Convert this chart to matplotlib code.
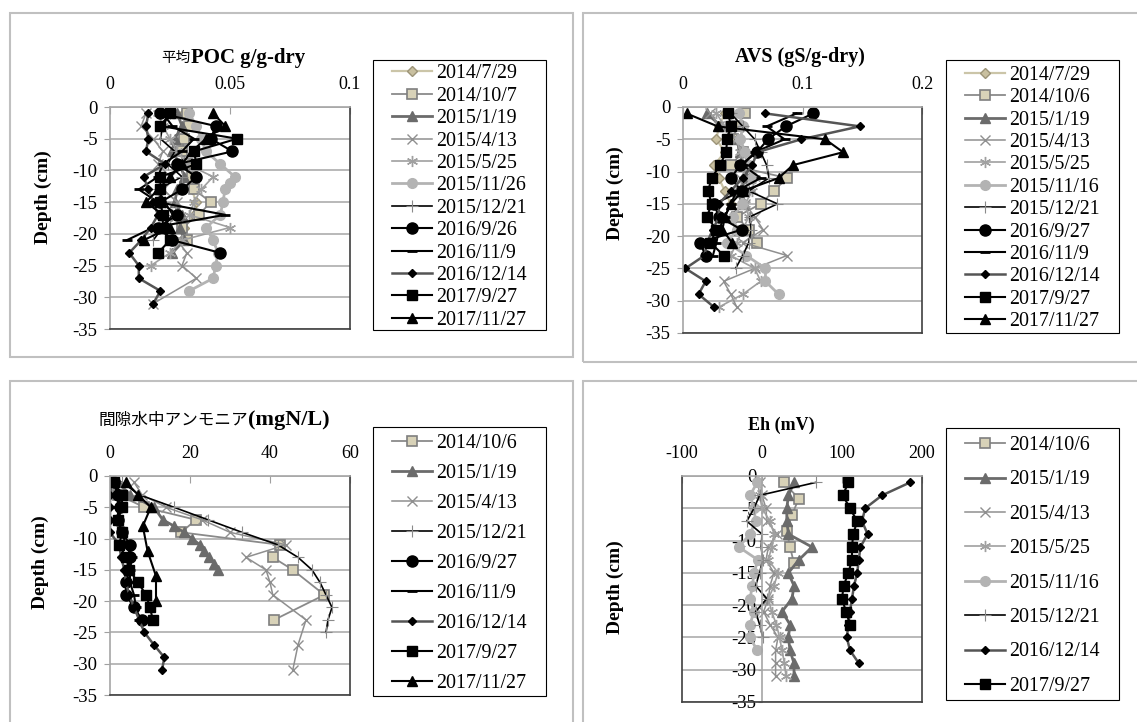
import matplotlib.pyplot as plt
from matplotlib.patches import Rectangle

# fuentes: serif para numeros, CJK para el japones
plt.rcParams['font.family'] = ['Liberation Serif', 'Noto Sans CJK JP']
plt.rcParams['axes.unicode_minus'] = False

W, H = 1137, 722

# ---------------- datos: 平均POC (g/g-dry) ----------------
poc_labels = ["2014/7/29", "2014/10/7", "2015/1/19", "2015/4/13", "2015/5/25", "2015/11/26",
              "2015/12/21", "2016/9/26", "2016/11/9", "2016/12/14", "2017/9/27", "2017/11/27"]
poc_depth_20140729 = [-1, -3, -5, -7, -9, -11, -13, -15, -17, -19, -21]
poc_20140729 = [0.031, 0.032, 0.030, 0.029, 0.031, 0.033, 0.034, 0.036, 0.035, 0.031, 0.030]
poc_depth_20141007 = [-1, -3, -5, -7, -9, -11, -13, -15, -17, -19, -21]
poc_20141007 = [0.032, 0.033, 0.031, 0.030, 0.032, 0.034, 0.035, 0.042, 0.037, 0.030, 0.032]
poc_depth_20150119 = [-1, -3, -5, -7, -9, -11, -13, -15, -17, -19, -21, -23]
poc_20150119 = [0.028, 0.030, 0.027, 0.026, 0.029, 0.031, 0.028, 0.027, 0.030, 0.029, 0.031, 0.026]
poc_depth_20150413 = [-1, -3, -5, -7, -9, -11, -13, -15, -17, -19, -21, -23, -25, -27, -31]
poc_20150413 = [0.015, 0.013, 0.018, 0.022, 0.020, 0.025, 0.022, 0.028, 0.027, 0.024, 0.028, 0.032, 0.030, 0.036, 0.018]
poc_depth_20150525 = [-1, -3, -5, -7, -9, -11, -13, -15, -17, -19, -21, -23, -25]
poc_20150525 = [0.020, 0.022, 0.025, 0.028, 0.032, 0.043, 0.038, 0.035, 0.033, 0.050, 0.030, 0.025, 0.017]
poc_depth_20151126 = [-1, -3, -5, -7, -9, -11, -12, -13, -15, -17, -19, -21, -23, -25, -27, -29]
poc_20151126 = [0.033, 0.036, 0.038, 0.040, 0.046, 0.052, 0.050, 0.048, 0.047, 0.046, 0.040, 0.043, 0.045, 0.044, 0.043, 0.033]
poc_depth_20151221 = [-1, -3, -5, -7, -9, -11, -13, -15, -17, -19, -21]
poc_20151221 = [0.025, 0.022, 0.021, 0.027, 0.024, 0.030, 0.020, 0.023, 0.026, 0.022, 0.018]
poc_depth_20160926 = [-1, -3, -5, -7, -9, -11, -13, -15, -17, -19, -21, -23]
poc_20160926 = [0.021, 0.044, 0.042, 0.051, 0.028, 0.036, 0.030, 0.021, 0.028, 0.020, 0.026, 0.046]
poc_depth_20161109 = [-1, -3, -5, -7, -9, -11, -13, -15, -17, -19, -21]
poc_20161109 = [0.022, 0.026, 0.035, 0.030, 0.022, 0.020, 0.012, 0.020, 0.048, 0.018, 0.007]
poc_depth_20161214 = [-1, -3, -5, -7, -9, -11, -13, -15, -17, -19, -21, -23, -25, -27, -29, -31]
poc_20161214 = [0.016, 0.015, 0.016, 0.015, 0.023, 0.014, 0.016, 0.018, 0.020, 0.017, 0.013, 0.008, 0.012, 0.012, 0.021, 0.018]
poc_depth_20170927 = [-1, -3, -5, -7, -9, -11, -13, -15, -17, -19, -21, -23]
poc_20170927 = [0.025, 0.021, 0.053, 0.035, 0.036, 0.021, 0.021, 0.021, 0.022, 0.022, 0.025, 0.020]
poc_depth_20171127 = [-1, -3, -5, -7, -9, -11, -13, -15, -17, -19, -21]
poc_20171127 = [0.043, 0.048, 0.040, 0.034, 0.030, 0.025, 0.020, 0.015, 0.022, 0.025, 0.014]

# ---------------- datos: AVS (gS/g-dry) ----------------
avs_labels = ["2014/7/29", "2014/10/6", "2015/1/19", "2015/4/13", "2015/5/25", "2015/11/16",
              "2015/12/21", "2016/9/27", "2016/11/9", "2016/12/14", "2017/9/27", "2017/11/27"]
avs_depth_20140729 = [-1, -3, -5, -7, -9, -11, -13, -15]
avs_20140729 = [0.035, 0.030, 0.028, 0.035, 0.026, 0.030, 0.035, 0.040]
avs_depth_20141006 = [-1, -3, -5, -7, -9, -11, -13, -15, -17, -19, -21]
avs_20141006 = [0.052, 0.045, 0.042, 0.050, 0.040, 0.087, 0.076, 0.065, 0.045, 0.055, 0.062]
avs_depth_20150119 = [-1, -3, -5, -7, -9, -11, -13, -15, -17, -19]
avs_20150119 = [0.020, 0.032, 0.045, 0.048, 0.050, 0.055, 0.045, 0.050, 0.040, 0.045]
avs_depth_20150413 = [-1, -3, -5, -7, -9, -11, -13, -15, -17, -19, -21, -23, -25, -27, -29, -31]
avs_20150413 = [0.023, 0.030, 0.045, 0.050, 0.055, 0.048, 0.050, 0.052, 0.060, 0.067, 0.050, 0.087, 0.060, 0.034, 0.040, 0.045]
avs_depth_20150525 = [-1, -3, -5, -7, -9, -11, -13, -15, -17, -19, -21, -23, -25, -27, -29, -31]
avs_20150525 = [0.028, 0.035, 0.045, 0.048, 0.052, 0.060, 0.058, 0.052, 0.055, 0.050, 0.045, 0.040, 0.060, 0.065, 0.050, 0.030]
avs_depth_20151116 = [-1, -3, -5, -7, -9, -11, -13, -15, -17, -19, -21, -23, -25, -27, -29]
avs_20151116 = [0.047, 0.050, 0.048, 0.052, 0.055, 0.058, 0.050, 0.049, 0.042, 0.045, 0.037, 0.053, 0.069, 0.069, 0.080]
avs_depth_20151221 = [-1, -3, -5, -7, -9, -11, -13, -15, -17, -19, -21, -23, -25]
avs_20151221 = [0.040, 0.050, 0.060, 0.065, 0.070, 0.072, 0.055, 0.079, 0.056, 0.057, 0.055, 0.050, 0.044]
avs_depth_20160927 = [-1, -3, -5, -7, -9, -11, -13, -15, -17, -19, -21, -23]
avs_20160927 = [0.109, 0.086, 0.071, 0.062, 0.048, 0.040, 0.049, 0.026, 0.030, 0.049, 0.014, 0.019]
avs_depth_20161109 = [-1, -3, -5, -7, -9, -11, -13, -15, -17, -19, -21, -23]
avs_20161109 = [0.095, 0.070, 0.085, 0.060, 0.050, 0.065, 0.045, 0.040, 0.035, 0.030, 0.028, 0.025]
avs_depth_20161214 = [-1, -3, -5, -7, -9, -11, -13, -15, -17, -19, -21, -23, -25, -27, -29, -31]
avs_20161214 = [0.069, 0.148, 0.099, 0.062, 0.058, 0.050, 0.040, 0.030, 0.030, 0.025, 0.020, 0.018, 0.002, 0.019, 0.013, 0.026]
avs_depth_20170927 = [-1, -3, -5, -7, -9, -11, -13, -15, -17, -19, -21, -23]
avs_20170927 = [0.038, 0.040, 0.037, 0.036, 0.031, 0.024, 0.021, 0.024, 0.020, 0.028, 0.023, 0.034]
avs_depth_20171127 = [-1, -3, -5, -7, -9, -11, -13, -15, -17, -19, -21]
avs_20171127 = [0.003, 0.029, 0.119, 0.134, 0.092, 0.080, 0.050, 0.040, 0.035, 0.033, 0.041]

# ---------------- datos: 間隙水中アンモニア (mgN/L) ----------------
nh_labels = ["2014/10/6", "2015/1/19", "2015/4/13", "2015/12/21", "2016/9/27",
             "2016/11/9", "2016/12/14", "2017/9/27", "2017/11/27"]
nh_depth_20141006 = [-1, -3, -5, -7, -9, -11, -13, -15, -19, -23]
nh_20141006 = [0.3, 2.0, 8.6, 21.5, 17.8, 42.5, 40.7, 45.7, 53.6, 41.0]
nh_depth_20150119 = [-1, -3, -5, -7, -8, -9, -10, -11, -12, -13, -14, -15]
nh_20150119 = [2.0, 5.0, 11.0, 13.2, 16.0, 18.5, 20.5, 22.5, 23.5, 24.8, 26.0, 27.0]
nh_depth_20150413 = [-1, -3, -5, -7, -9, -11, -13, -15, -17, -19, -23, -27, -31]
nh_20150413 = [6.0, 8.0, 14.0, 23.0, 30.0, 44.0, 34.0, 39.0, 40.0, 40.7, 49.0, 47.0, 45.7]
nh_depth_20151221 = [-1, -3, -5, -7, -9, -11, -13, -15, -17, -19, -21, -23, -25]
nh_20151221 = [3.0, 7.3, 16.0, 24.5, 33.0, 42.0, 47.0, 50.5, 52.5, 54.0, 55.5, 54.5, 54.0]
nh_depth_20160927 = [-1, -3, -5, -7, -9, -11, -13, -15, -17, -19, -21, -23]
nh_20160927 = [1.0, 2.0, 2.5, 2.0, 3.0, 5.0, 5.0, 4.5, 4.0, 4.0, 6.0, 8.0]
nh_depth_20161109 = [-1, -3, -5, -7, -9, -11, -13, -15, -17, -19, -21, -23]
nh_20161109 = [1.0, 2.0, 2.0, 2.0, 3.0, 4.0, 5.5, 5.0, 5.0, 6.0, 6.5, 7.3]
nh_depth_20161214 = [-1, -3, -5, -7, -9, -11, -13, -15, -17, -19, -21, -23, -25, -27, -29, -31]
nh_20161214 = [0.5, 0.0, 0.0, 0.0, 0.0, 2.3, 2.8, 3.6, 4.0, 4.8, 6.0, 7.3, 8.6, 11.0, 13.6, 13.0]
nh_depth_20170927 = [-1, -3, -5, -7, -9, -11, -13, -15, -17, -19, -21, -23]
nh_20170927 = [1.0, 3.0, 3.0, 2.0, 3.0, 2.3, 4.0, 4.8, 7.0, 9.0, 10.0, 10.7]
nh_depth_20171127 = [-1, -3, -5, -8, -12, -16, -20]
nh_20171127 = [4.0, 7.0, 10.2, 8.2, 9.4, 11.5, 11.5]

# ---------------- datos: Eh (mV) ----------------
eh_labels = ["2014/10/6", "2015/1/19", "2015/4/13", "2015/5/25", "2015/11/16",
             "2015/12/21", "2016/12/14", "2017/9/27"]
eh_depth_20141006 = [-1, -3.5, -6, -8.5, -11, -13.5]
eh_20141006 = [27, 46, 37.5, 31, 35, 40]
eh_depth_20150119 = [-1, -3, -5, -7, -9, -11, -13, -15, -17, -19, -21, -23, -25, -27, -29, -31]
eh_20150119 = [40, 33, 31, 31, 33, 62.5, 46, 33, 40, 37.5, 25, 35, 33, 35, 40, 40]
eh_depth_20150413 = [-1, -3, -5, -7, -9, -11, -13, -15, -17, -19, -21, -23, -25, -27, -29, -31]
eh_20150413 = [-2, 0, 5, 6, 19, 8, 5, 15, 10, 8, 2, 10, 20, 17, 17, 17]
eh_depth_20150525 = [-1, -3, -5, -7, -9, -11, -13, -15, -17, -19, -21, -23, -25, -27, -29, -31]
eh_20150525 = [-5, -3, 0, 10, 15, 12, 8, 20, 15, 8, 12, 18, 22, 25, 28, 30]
eh_depth_20151116 = [-1, -3, -5, -7, -9, -11, -13, -15, -17, -19, -21, -23, -25, -27]
eh_20151116 = [-6, -15, -10, -8, -15, -29, -5, -10, -12, -15, -10, -15, -15, -6]
eh_depth_20151221 = [-1, -3, -5, -7, -9, -11, -13, -15, -17, -19, -21, -23, -25]
eh_20151221 = [67, -3, -10, -19, 0, -1, 1, -3, -8, 6, -8, -3, 1]
eh_depth_20161214 = [-1, -3, -5, -7, -9, -11, -13, -15, -17, -19, -21, -23, -25, -27, -29]
eh_20161214 = [185, 150, 129, 125, 132, 123, 121, 119, 115, 112.5, 110, 108, 106, 110, 121]
eh_depth_20170927 = [-1, -3, -5, -7, -9, -11, -13, -15, -17, -19, -21, -23]
eh_20170927 = [108, 101, 110, 119, 114, 112.5, 112.5, 108, 102, 100, 105, 110]

# ejes
depth_ticks = [0, -5, -10, -15, -20, -25, -30, -35]
depth_ticklabels = ["0", "-5", "-10", "-15", "-20", "-25", "-30", "-35"]
poc_ticks, poc_ticklabels = [0, 0.05, 0.1], ["0", "0.05", "0.1"]
avs_ticks, avs_ticklabels = [0, 0.1, 0.2], ["0", "0.1", "0.2"]
nh_ticks, nh_ticklabels = [0, 20, 40, 60], ["0", "20", "40", "60"]
eh_ticks, eh_ticklabels = [-100, 0, 100, 200], ["-100", "0", "100", "200"]

# estilos de cada serie (mismo orden que las leyendas)
st = {
    'd_beige': dict(color='#cbc5a8', marker='D', ms=5, mfc='#c9c0a0', mec='#9c9478', lw=1.6),
    'sq_beige': dict(color='#8a8a8a', marker='s', ms=7.5, mfc='#d8d2b8', mec='#7f7f7f', mew=1.2, lw=1.3),
    'tri_dg': dict(color='#6b6b6b', marker='^', ms=7, mfc='#6b6b6b', mec='#6b6b6b', lw=2.0),
    'x_g': dict(color='#8f8f8f', marker='x', ms=7, mec='#8f8f8f', mew=1, lw=1.1),
    'ast_g': dict(color='#a0a0a0', marker=(6, 2, 0), ms=8, mec='#a0a0a0', mew=1, lw=1.2),
    'o_lg': dict(color='#b3b3b3', marker='o', ms=7, mfc='#b3b3b3', mec='#b3b3b3', lw=2.0),
    'plus_k': dict(color='black', marker='+', ms=9, mec='#8a8a8a', mew=0.8, lw=1.2),
    'o_k': dict(color='black', marker='o', ms=8, mfc='black', mec='black', lw=1.5),
    'dash_k': dict(color='black', marker='_', ms=7, mec='black', mew=2, lw=1.5),
    'd_k': dict(color='#555555', marker='D', ms=4.5, mfc='black', mec='black', lw=1.8),
    'sq_k': dict(color='black', marker='s', ms=7.5, mfc='black', mec='black', lw=1.5),
    'tri_k': dict(color='black', marker='^', ms=7.5, mfc='black', mec='black', lw=1.5),
}


def fx(px):
    return px / W


def fy(py):
    return 1 - py / H


def axes_px(x0, y0, x1, y1):
    return fig.add_axes([fx(x0), fy(y1), (x1 - x0) / W, (y1 - y0) / H])


def setup(ax, xlim, xt, xtl):
    ax.set_xlim(xlim)
    ax.set_ylim(-35, 0)
    ax.set_xticks(xt)
    ax.set_xticklabels(xtl)
    ax.set_yticks(depth_ticks)
    ax.set_yticklabels(depth_ticklabels)
    ax.xaxis.tick_top()
    ax.tick_params(axis='x', direction='in', length=5, pad=10, labelsize=13, color='#a0a0a0')
    ax.tick_params(axis='y', direction='out', length=4, pad=5, labelsize=13.5, color='#a0a0a0')
    ax.grid(axis='y', color='#a6a6a6', lw=1.1)
    ax.set_axisbelow(True)
    ax.spines['top'].set_color('#a6a6a6')
    ax.spines['left'].set_color('#a6a6a6')
    ax.spines['right'].set_color('#404040')
    ax.spines['bottom'].set_color('#404040')
    for s in ax.spines.values():
        s.set_linewidth(1.2)


def legend_box(ax, x0, y0, x1, y1, spacing):
    h, l = ax.get_legend_handles_labels()
    fig.legend(h, l, loc='center', bbox_to_anchor=(fx((x0 + x1) / 2), fy((y0 + y1) / 2 + 2)),
               frameon=False, fontsize=14.4, handlelength=2.0, handletextpad=0.2,
               labelspacing=spacing, numpoints=1, borderpad=0)
    fig.add_artist(Rectangle((fx(x0), fy(y1)), (x1 - x0) / W, (y1 - y0) / H,
                             transform=fig.transFigure, fill=False, ec='black', lw=0.8))


fig = plt.figure(figsize=(W / 100, H / 100), dpi=100)

# marcos de cada grafico
for (x0, y0, x1, y1) in [(10, 13, 573, 357), (583, 13, 1145, 362), (10, 381, 573, 730), (583, 381, 1145, 730)]:
    fig.add_artist(Rectangle((fx(x0), fy(y1)), (x1 - x0) / W, (y1 - y0) / H,
                             transform=fig.transFigure, fill=False, ec='#c0c0c0', lw=1.5))

# ---- POC ----
ax1 = axes_px(110, 107, 350, 329)
setup(ax1, (0, 0.1), poc_ticks, poc_ticklabels)
poc_series = [(poc_20140729, poc_depth_20140729, 'd_beige'), (poc_20141007, poc_depth_20141007, 'sq_beige'),
              (poc_20150119, poc_depth_20150119, 'tri_dg'), (poc_20150413, poc_depth_20150413, 'x_g'),
              (poc_20150525, poc_depth_20150525, 'ast_g'), (poc_20151126, poc_depth_20151126, 'o_lg'),
              (poc_20151221, poc_depth_20151221, 'plus_k'), (poc_20160926, poc_depth_20160926, 'o_k'),
              (poc_20161109, poc_depth_20161109, 'dash_k'), (poc_20161214, poc_depth_20161214, 'd_k'),
              (poc_20170927, poc_depth_20170927, 'sq_k'), (poc_20171127, poc_depth_20171127, 'tri_k')]
for (x, d, k), lab in zip(poc_series, poc_labels):
    ax1.plot(x, d, label=lab, **st[k])
legend_box(ax1, 373, 60, 546, 330, 0.17)

# ---- AVS ----
ax2 = axes_px(683, 107, 922, 333)
setup(ax2, (0, 0.2), avs_ticks, avs_ticklabels)
avs_series = [(avs_20140729, avs_depth_20140729, 'd_beige'), (avs_20141006, avs_depth_20141006, 'sq_beige'),
              (avs_20150119, avs_depth_20150119, 'tri_dg'), (avs_20150413, avs_depth_20150413, 'x_g'),
              (avs_20150525, avs_depth_20150525, 'ast_g'), (avs_20151116, avs_depth_20151116, 'o_lg'),
              (avs_20151221, avs_depth_20151221, 'plus_k'), (avs_20160927, avs_depth_20160927, 'o_k'),
              (avs_20161109, avs_depth_20161109, 'dash_k'), (avs_20161214, avs_depth_20161214, 'd_k'),
              (avs_20170927, avs_depth_20170927, 'sq_k'), (avs_20171127, avs_depth_20171127, 'tri_k')]
for (x, d, k), lab in zip(avs_series, avs_labels):
    ax2.plot(x, d, label=lab, **st[k])
legend_box(ax2, 946, 60, 1119, 333, 0.17)

# ---- amonio ----
ax3 = axes_px(110, 476, 350, 695)
setup(ax3, (0, 60), nh_ticks, nh_ticklabels)
nh_series = [(nh_20141006, nh_depth_20141006, 'sq_beige'), (nh_20150119, nh_depth_20150119, 'tri_dg'),
             (nh_20150413, nh_depth_20150413, 'x_g'), (nh_20151221, nh_depth_20151221, 'plus_k'),
             (nh_20160927, nh_depth_20160927, 'o_k'), (nh_20161109, nh_depth_20161109, 'dash_k'),
             (nh_20161214, nh_depth_20161214, 'd_k'), (nh_20170927, nh_depth_20170927, 'sq_k'),
             (nh_20171127, nh_depth_20171127, 'tri_k')]
for (x, d, k), lab in zip(nh_series, nh_labels):
    ax3.plot(x, d, label=lab, **st[k])
legend_box(ax3, 373, 427, 546, 696, 0.55)

# ---- Eh ----
ax4 = axes_px(682, 476, 922, 702)
setup(ax4, (-100, 200), eh_ticks, eh_ticklabels)
ax4.spines['left'].set_position(('data', 0))
ax4.tick_params(axis='y', length=3, pad=1)
ax4.axvline(-100, color='#404040', lw=1.2, clip_on=False)
eh_series = [(eh_20141006, eh_depth_20141006, 'sq_beige'), (eh_20150119, eh_depth_20150119, 'tri_dg'),
             (eh_20150413, eh_depth_20150413, 'x_g'), (eh_20150525, eh_depth_20150525, 'ast_g'),
             (eh_20151116, eh_depth_20151116, 'o_lg'), (eh_20151221, eh_depth_20151221, 'plus_k'),
             (eh_20161214, eh_depth_20161214, 'd_k'), (eh_20170927, eh_depth_20170927, 'sq_k')]
for (x, d, k), lab in zip(eh_series, eh_labels):
    ax4.plot(x, d, label=lab, **st[k])
legend_box(ax4, 946, 428, 1119, 700, 0.77)

# ---- titulos ----
t1 = fig.text(fx(191), fy(58), "平均", ha='right', va='center', fontsize=10.5,
              family=['Noto Sans CJK JP'])
ax1.annotate("POC g/g-dry", xy=(1, 0.5), xycoords=t1, ha='left', va='center',
             fontsize=15, fontweight='bold', annotation_clip=False)
fig.text(fx(800), fy(57), "AVS (gS/g-dry)", ha='center', va='center', fontsize=14.5, fontweight='bold')
t3 = fig.text(fx(248), fy(420), "間隙水中アンモニア", ha='right', va='center', fontsize=12,
              family=['Noto Sans CJK JP'])
ax3.annotate("(mgN/L)", xy=(1, 0.5), xycoords=t3, ha='left', va='center',
             fontsize=16, fontweight='bold', annotation_clip=False)
fig.text(fx(781), fy(425), "Eh (mV)", ha='center', va='center', fontsize=13, fontweight='bold')

for (x, y) in [(43, 197), (615, 193), (40, 562), (615, 587)]:
    fig.text(fx(x), fy(y), "Depth (cm)", rotation=90, ha='center', va='center',
             fontsize=14, fontweight='bold')

plt.savefig("out.png", dpi=100)
